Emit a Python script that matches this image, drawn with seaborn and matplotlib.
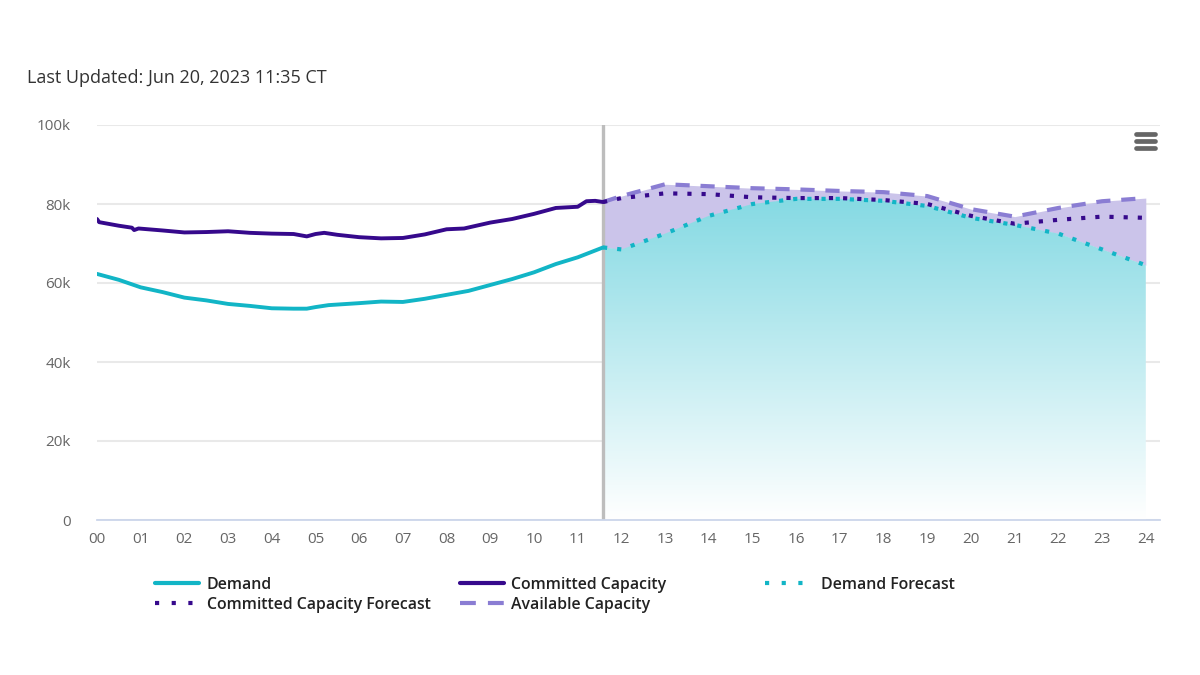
import numpy as np
import pandas as pd
import matplotlib
matplotlib.use("Agg")
import matplotlib.pyplot as plt
from matplotlib.lines import Line2D
import seaborn as sns

actual_hours = [0, .05, .15, .5, .8, .85, .95, 1.5, 2, 2.5, 3, 3.5, 4, 4.5, 4.8, 5, 5.2, 5.5, 6, 6.5, 7, 7.5, 8, 8.4, 9, 9.5, 10, 10.5, 11, 11.2, 11.4, 11.58]
committed = [76.2, 75.4, 75.2, 74.5, 74.0, 73.4, 73.8, 73.3, 72.8, 72.9, 73.1, 72.7, 72.5, 72.4, 71.8, 72.4, 72.7, 72.2, 71.6, 71.3, 71.4, 72.3, 73.6, 73.8, 75.3, 76.2, 77.5, 79.0, 79.3, 80.7, 80.8, 80.5]
demand_hours = [0, .5, 1, 1.5, 2, 2.5, 3, 3.5, 4, 4.5, 4.8, 5, 5.3, 6, 6.5, 7, 7.5, 8, 8.5, 9, 9.5, 10, 10.5, 11, 11.58]
demand = [62.3, 60.8, 58.9, 57.7, 56.3, 55.6, 54.7, 54.2, 53.6, 53.5, 53.5, 53.9, 54.4, 54.9, 55.3, 55.2, 56.0, 57.0, 58.0, 59.5, 61.0, 62.7, 64.8, 66.5, 69.0]
fc_hours = [11.58, 12, 13, 14, 15, 16, 17, 18, 19, 20, 21, 22, 23, 24]
available = [80.5, 82.0, 85.0, 84.5, 84.0, 83.7, 83.3, 83.0, 82.0, 78.7, 76.8, 79.0, 80.7, 81.5]
committed_fc = [80.5, 81.5, 82.7, 82.5, 81.7, 81.5, 81.5, 81.0, 80.0, 77.0, 75.0, 76.0, 76.8, 76.5]
demand_fc = [69.0, 68.5, 72.5, 77.0, 80.0, 81.3, 81.3, 80.8, 79.5, 76.5, 74.7, 72.5, 68.5, 64.5]
y_ticks = [0, 20, 40, 60, 80, 100]
y_labels = ["0", "20k", "40k", "60k", "80k", "100k"]
x_labels = [f"{h:02d}" for h in range(25)]

TEAL = "#12b5c6"
NAVY = "#36098c"
PURPLE = "#8a7dd3"
FONT = "Open Sans"

sns.set_theme(style="white")
plt.rcParams["font.family"] = [FONT, "DejaVu Sans"]

fig = plt.figure(figsize=(12, 6.75), dpi=100, facecolor="white")
ax = fig.add_axes([97/1200, 1-520/675, (1160-97)/1200, (520-125)/675])
ax.set_xlim(0, (1160-97)/43.7)
ax.set_ylim(0, 100)

ax.set_yticks(y_ticks, y_labels)
ax.set_xticks(range(25), x_labels)
ax.grid(axis="y", color="#e9e9e9", lw=1.5, zorder=0)
ax.set_axisbelow(True)
for s in ["top", "right", "left"]:
    ax.spines[s].set_visible(False)
ax.spines["bottom"].set_color("#ccd6eb")
ax.spines["bottom"].set_linewidth(1.3)
ax.tick_params(axis="x", length=7, width=1, color="#ccd6eb", labelsize=11, labelcolor="#666666", pad=1.5)
ax.tick_params(axis="y", length=0, labelsize=11, labelcolor="#666666", pad=19)

# forecast fills
ax.fill_between(fc_hours, demand_fc, available, color="#cbc4ea", lw=0, zorder=1)
poly = ax.fill_between(fc_hours, 0, demand_fc, color="none", lw=0, zorder=1)
grad = np.linspace(0, 1, 256)[:, None, None]
top = np.array(matplotlib.colors.to_rgb("#80d8e2"))
rgb = (1 - grad) * top + grad * np.array([1, 1, 1])
im = ax.imshow(rgb, extent=[fc_hours[0], fc_hours[-1], 0, 85], aspect="auto", origin="upper", zorder=1.2)
ax.set_xlim(0, (1160-97)/43.7)
ax.set_ylim(0, 100)
path = poly.get_paths()[0]
im.set_clip_path(path, transform=ax.transData)

ax.axvline(fc_hours[0], color="#bdbdbd", lw=2.4, zorder=2)

sns.lineplot(data=pd.DataFrame({"h": actual_hours, "v": committed}), x="h", y="v", color=NAVY, lw=2.8, ax=ax, zorder=4)
sns.lineplot(data=pd.DataFrame({"h": demand_hours, "v": demand}), x="h", y="v", color=TEAL, lw=2.8, ax=ax, zorder=4)
sns.lineplot(data=pd.DataFrame({"h": fc_hours, "v": available}), x="h", y="v", color=PURPLE, lw=3, ax=ax, zorder=3,
             linestyle=(0, (3.4, 2.6)))
sns.lineplot(data=pd.DataFrame({"h": fc_hours, "v": demand_fc}), x="h", y="v", color=TEAL, lw=3, ax=ax, zorder=3.5,
             linestyle=(0, (1, 2.4)))
sns.lineplot(data=pd.DataFrame({"h": fc_hours, "v": committed_fc}), x="h", y="v", color=NAVY, lw=3, ax=ax, zorder=3.6,
             linestyle=(0, (1, 2.4)))
ax.set_xlabel("")
ax.set_ylabel("")

# legend: columns filled top-down
handles = [
    Line2D([], [], color=TEAL, lw=3, label="Demand"),
    Line2D([], [], color=NAVY, lw=3, ls=(0, (1, 3)), label="Committed Capacity Forecast"),
    Line2D([], [], color=NAVY, lw=3, label="Committed Capacity"),
    Line2D([], [], color=PURPLE, lw=3, ls=(0, (3.8, 2.9)), label="Available Capacity"),
]
common = dict(frameon=False, handletextpad=0.47, labelspacing=0.24, borderaxespad=0, borderpad=0,
              labelcolor="#222222", prop={"size": 11.4, "weight": "semibold"})
fig.legend(handles=handles, ncol=2, loc="upper left", bbox_to_anchor=(155/1200, 1-577/675),
           handlelength=2.8, columnspacing=1.83, **common)
fig.legend(handles=[Line2D([], [], color=TEAL, lw=3, ls=(0, (1, 3)), label="Demand Forecast")], loc="upper left",
           bbox_to_anchor=(765/1200, 1-577/675), handlelength=2.65, **{**common, "handletextpad": 0.88})

fig.text(27/1200, 1-78/675, "Last Updated: Jun 20, 2023 11:35 CT", fontsize=13, color="#333333", va="center", ha="left")

# hamburger menu icon
for py in (134, 141, 148):
    fig.add_artist(Line2D([1136/1200, 1155/1200], [1-py/675]*2, color="#666666", lw=3.4, solid_capstyle="round"))

fig.savefig("out.png", dpi=100)
